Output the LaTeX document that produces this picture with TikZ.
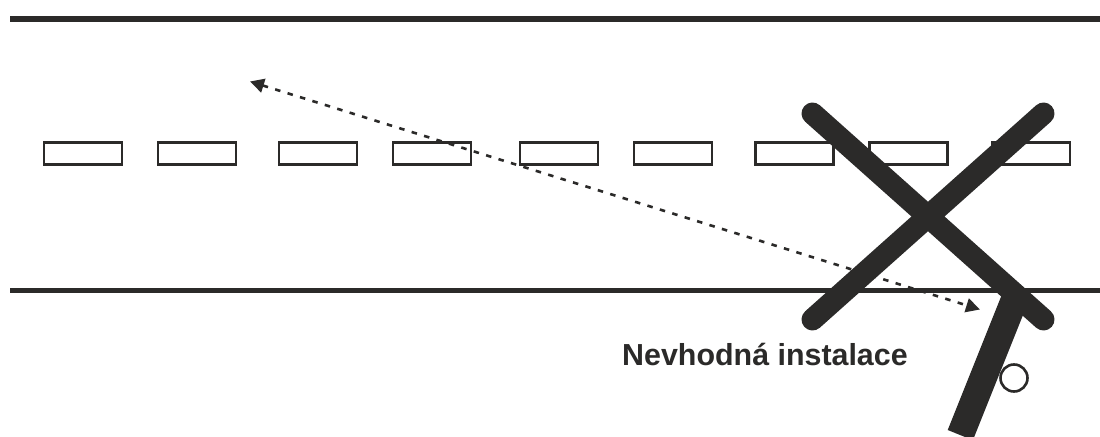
\documentclass[tikz,border=0pt]{standalone}
\usepackage{fontspec}
\setmainfont{Liberation Sans}
\usetikzlibrary{arrows.meta}
\definecolor{ink}{HTML}{2B2A29}
\tikzset{
  road/.style={draw=ink,line width=5.5bp},
  lanemark/.style={draw=ink,fill=white,line width=2.6bp},
  crossbar/.style={draw=ink,line width=22bp,line cap=round},
  sightline/.style={draw=ink,line width=2.6bp,dash pattern=on 5.5bp off 7.5bp,
    {Triangle[length=14bp,width=14bp]}-{Triangle[length=14bp,width=14bp]}},
  label/.style={font=\bfseries\fontsize{30.4bp}{34bp}\selectfont,text=ink,inner sep=0pt,anchor=base west}
}
\begin{document}
\begin{tikzpicture}[x=1bp,y=-1bp]
\useasboundingbox (0,0) rectangle (1100,437);
\fill[white] (0,0) rectangle (1100,437);
\draw[road] (10,18.8) -- (1100,18.8);
\draw[road] (10,290.4) -- (1100,290.4);
\foreach \x in {44,158,279,393,520,634,755.5,869.5,992}
  \draw[lanemark] (\x,142.3) rectangle ++(78,22.2);
\coordinate (tipa) at (250,81.5);
\coordinate (tipb) at (980,309.5);
\draw[sightline] (tipa) -- (tipb);
\coordinate (xa) at (812.5,113.5);
\coordinate (xb) at (1043.5,319.5);
\coordinate (xc) at (1043.5,113.5);
\coordinate (xd) at (812.5,319.5);
\draw[crossbar] (xa) -- (xb);
\draw[crossbar] (xc) -- (xd);
\fill[ink] (947.7,430) -- (972.9,440.2) -- (1029,300) -- (1003.7,290) -- cycle;
\node[draw=ink,fill=white,line width=2.6bp,circle,minimum size=27bp,inner sep=0pt] (hole) at (1014,378) {};
\node[label] (caption) at (622,366) {Nevhodná instalace};
\end{tikzpicture}
\end{document}
